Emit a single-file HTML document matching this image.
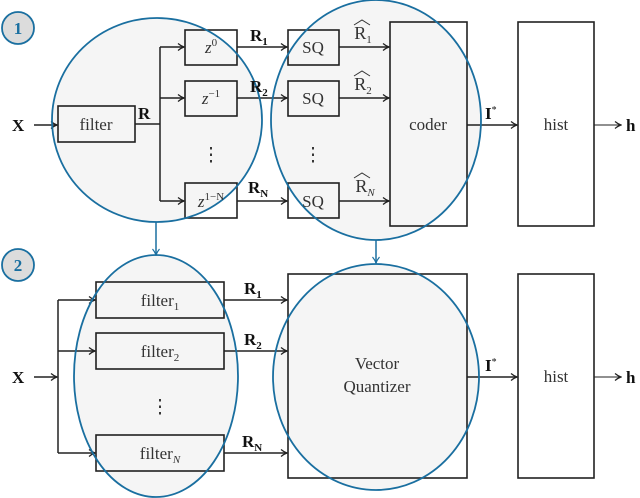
<!DOCTYPE html>
<html><head><style>body{margin:0;background:#fff}svg{display:block}</style></head>
<body>
<svg width="640" height="498" viewBox="0 0 640 498" xmlns="http://www.w3.org/2000/svg" font-family="Liberation Serif, serif">
<defs>
<marker id="a" markerWidth="8" markerHeight="8" refX="7" refY="4" orient="auto" markerUnits="userSpaceOnUse"><path d="M1,0.5 Q4,3 7,4 Q4,5 1,7.5" fill="none" stroke="#222" stroke-width="1.2"/></marker>
<marker id="b" markerWidth="8" markerHeight="8" refX="7" refY="4" orient="auto" markerUnits="userSpaceOnUse"><path d="M1,0.5 Q4,3 7,4 Q4,5 1,7.5" fill="none" stroke="#1a6fa0" stroke-width="1.2"/></marker>
</defs>
<g stroke="#222" stroke-width="1.6" fill="#fff">
<rect x="58" y="106" width="77" height="36"/>
<rect x="185" y="30" width="52" height="35"/><rect x="185" y="81" width="52" height="35"/><rect x="185" y="183" width="52" height="35"/>
<rect x="288" y="30" width="51" height="35"/><rect x="288" y="81" width="51" height="35"/><rect x="288" y="183" width="51" height="35"/>
<rect x="390" y="22" width="77" height="204"/>
<rect x="518" y="22" width="76" height="204"/>
<rect x="96" y="282" width="128" height="36"/><rect x="96" y="333" width="128" height="36"/><rect x="96" y="435" width="128" height="36"/>
<rect x="288" y="274" width="179" height="204"/>
<rect x="518" y="274" width="76" height="204"/>
</g>
<g stroke="#222" stroke-width="1.5" fill="none">
<line x1="34" y1="125" x2="57" y2="125" marker-end="url(#a)"/>
<path d="M135,124 H160 M160,47 V201"/>
<line x1="160" y1="47" x2="184" y2="47" marker-end="url(#a)"/>
<line x1="160" y1="98" x2="184" y2="98" marker-end="url(#a)"/>
<line x1="160" y1="201" x2="184" y2="201" marker-end="url(#a)"/>
<line x1="237" y1="47" x2="287" y2="47" marker-end="url(#a)"/>
<line x1="237" y1="98" x2="287" y2="98" marker-end="url(#a)"/>
<line x1="237" y1="201" x2="287" y2="201" marker-end="url(#a)"/>
<line x1="339" y1="47" x2="389" y2="47" marker-end="url(#a)"/>
<line x1="339" y1="98" x2="389" y2="98" marker-end="url(#a)"/>
<line x1="339" y1="201" x2="389" y2="201" marker-end="url(#a)"/>
<line x1="467" y1="125" x2="517" y2="125" marker-end="url(#a)"/>
<line x1="594" y1="125" x2="621" y2="125" stroke-width="1" marker-end="url(#a)"/>
<line x1="34" y1="377" x2="57" y2="377" marker-end="url(#a)"/>
<path d="M58,300 V453"/>
<line x1="58" y1="300" x2="95" y2="300" marker-end="url(#a)"/>
<line x1="58" y1="351" x2="95" y2="351" marker-end="url(#a)"/>
<line x1="58" y1="453" x2="95" y2="453" marker-end="url(#a)"/>
<line x1="224" y1="300" x2="287" y2="300" marker-end="url(#a)"/>
<line x1="224" y1="351" x2="287" y2="351" marker-end="url(#a)"/>
<line x1="224" y1="453" x2="287" y2="453" marker-end="url(#a)"/>
<line x1="467" y1="377" x2="517" y2="377" marker-end="url(#a)"/>
<line x1="594" y1="377" x2="621" y2="377" stroke-width="1" marker-end="url(#a)"/>
</g>
<g stroke="#1a6fa0" stroke-width="1.8" fill="rgba(0,0,0,0.04)">
<ellipse cx="157" cy="120" rx="105" ry="102"/>
<ellipse cx="376" cy="120" rx="105" ry="120"/>
<ellipse cx="156" cy="376" rx="82" ry="121"/>
<ellipse cx="376" cy="377" rx="103" ry="113"/>
<circle cx="18" cy="28" r="16" fill="#dcdcdc"/>
<circle cx="18" cy="265" r="16" fill="#dcdcdc"/>
</g>
<g stroke="#1a6fa0" stroke-width="1.5">
<line x1="156" y1="222" x2="156" y2="255" marker-end="url(#b)"/>
<line x1="376" y1="240" x2="376" y2="263" marker-end="url(#b)"/>
</g>
<g fill="#1a6fa0" font-weight="bold" font-size="17" text-anchor="middle">
<text x="18" y="34">1</text><text x="18" y="271">2</text>
</g>
<g fill="#333" font-size="17" text-anchor="middle">
<text x="96" y="130">filter</text>
<text x="211" y="53" font-style="italic">z<tspan font-size="11" dy="-7" font-style="normal">0</tspan></text>
<text x="211" y="104" font-style="italic">z<tspan font-size="11" dy="-7" font-style="normal">−1</tspan></text>
<text x="211" y="207" font-style="italic">z<tspan font-size="11" dy="-7" font-style="normal">1−N</tspan></text>
<text x="313" y="53">SQ</text><text x="313" y="104">SQ</text><text x="313" y="207">SQ</text>
<text x="428" y="130">coder</text>
<text x="556" y="130">hist</text>
<text x="160" y="306">filter<tspan font-size="11" dy="4">1</tspan></text>
<text x="160" y="357">filter<tspan font-size="11" dy="4">2</tspan></text>
<text x="160" y="459">filter<tspan font-size="11" dy="4" font-style="italic">N</tspan></text>
<text x="377" y="369">Vector</text>
<text x="377" y="392">Quantizer</text>
<text x="556" y="382">hist</text>
<text x="211" y="161" font-size="19">⋮</text><text x="313" y="161" font-size="19">⋮</text><text x="160" y="413" font-size="19">⋮</text>
<text x="363" y="39" font-size="18">R<tspan font-size="11" dy="4">1</tspan></text>
<text x="363" y="90" font-size="18">R<tspan font-size="11" dy="4">2</tspan></text>
<text x="365" y="192" font-size="18">R<tspan font-size="11" dy="4" font-style="italic">N</tspan></text>
</g>
<g stroke="#333" stroke-width="1" fill="none">
<path d="M354,25 L362,20 L370,25"/><path d="M354,76 L362,71 L370,76"/><path d="M354,178 L362,173 L370,178"/>
</g>
<g fill="#111" font-size="17" font-weight="bold">
<text x="12" y="131">X</text><text x="12" y="383">X</text>
<text x="138" y="119">R</text>
<text x="250" y="41">R<tspan font-size="11" dy="4">1</tspan></text>
<text x="250" y="92">R<tspan font-size="11" dy="4">2</tspan></text>
<text x="248" y="193">R<tspan font-size="11" dy="4">N</tspan></text>
<text x="244" y="294">R<tspan font-size="11" dy="4">1</tspan></text>
<text x="244" y="345">R<tspan font-size="11" dy="4">2</tspan></text>
<text x="242" y="447">R<tspan font-size="11" dy="4">N</tspan></text>
<text x="485" y="119">I<tspan font-size="10" dy="-6" font-weight="normal">*</tspan></text>
<text x="485" y="371">I<tspan font-size="10" dy="-6" font-weight="normal">*</tspan></text>
<text x="626" y="131">h</text><text x="626" y="383">h</text>
</g>
</svg>
</body></html>
